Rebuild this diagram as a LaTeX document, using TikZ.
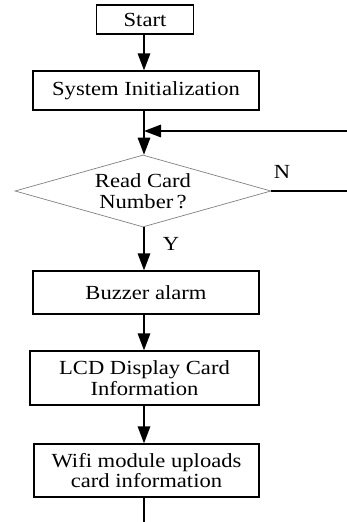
\documentclass[tikz,border=0pt]{standalone}
\usepackage{fontspec}
\setmainfont{Liberation Serif}[FakeStretch=1.13]
\usetikzlibrary{shapes.geometric,arrows.meta}
\begin{document}
\begin{tikzpicture}[x=1pt,y=-1pt,
  every node/.style={font=\fontsize{20}{20.5}\selectfont},
  box/.style={draw=black,line width=1.3pt,inner sep=0pt,align=center},
  decision/.style={diamond,draw=gray,line width=0.7pt,inner sep=0pt,aspect=3.5,
     minimum width=256pt,minimum height=72pt,align=center},
  flow/.style={line width=1.5pt,-{Triangle[length=17pt,width=12.5pt]}},
  plain/.style={line width=1.5pt},
  lbl/.style={inner sep=0pt}]
\useasboundingbox (0,0) rectangle (347,522);
\node[box,minimum width=97pt,minimum height=29pt] (start) at (145,19.5) {Start};
\node[box,minimum width=226pt,minimum height=39pt] (init) at (146,90.5) {System Initialization};
\node[decision] (dec) at (143,191) {Read Card\\Number\,?};
\node[box,minimum width=226pt,minimum height=43pt] (buzz) at (146,292.5) {Buzzer alarm};
\node[box,minimum width=229pt,minimum height=54pt] (lcd) at (144.5,378) {LCD Display Card\\Information};
\node[box,minimum width=225pt,minimum height=53pt] (wifi) at (146.5,470.5) {Wifi module uploads\\card information};
\node[lbl] (n) at (282,172) {N};
\node[lbl] (y) at (171,244) {Y};
\coordinate (m) at (144,131);
\coordinate (r1) at (347,131);
\coordinate (r2) at (347,191);
\coordinate (bot) at (144,522);
\draw[flow] (start.south -| m) -- (init.north -| m);
\draw[plain] (init.south -| m) -- (m);
\draw[flow] (m) -- (dec.north -| m);
\draw[flow] (r1) -- (m);
\draw[plain] (dec.east) -- (r2);
\draw[flow] (dec.south -| m) -- (buzz.north -| m);
\draw[flow] (buzz.south -| m) -- (lcd.north -| m);
\draw[flow] (lcd.south -| m) -- (wifi.north -| m);
\draw[plain] (wifi.south -| m) -- (bot);
\end{tikzpicture}
\end{document}
